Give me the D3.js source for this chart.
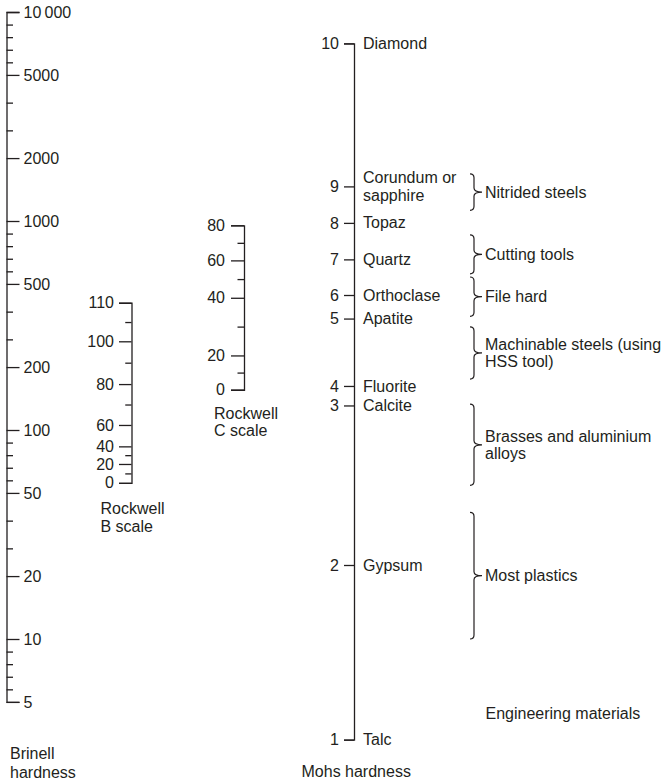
<!DOCTYPE html>
<html>
<head>
<meta charset="utf-8">
<script src="https://cdn.jsdelivr.net/npm/d3@7"></script>
<style>
  body { margin: 0; background: #fff; }
  text { font-family: 'Liberation Sans', Arial, Helvetica, sans-serif; fill: #231f20; }
</style>
</head>
<body>
<div id="hardness_chart"></div>
<script>
// Brinell hardness ticks
const brinellMajor = [5, 10, 20, 50, 100, 200, 500, 1000, 2000, 5000, 10000]
const brinellLabels = ['5', '10', '20', '50', '100', '200', '500', '1000', '2000', '5000', '10\u2009000']
const brinellMinor = [6, 7, 8, 9, 30, 40, 60, 70, 80, 90, 300, 400, 600, 700, 800, 900, 3000, 4000, 6000, 7000, 8000, 9000]

// Rockwell B scale and the Brinell value at each tick
const rockwellB = [0, 20, 40, 60, 80, 100, 110]
const rockwellBHB = [58, 73, 87, 108, 173, 293, 432]
const rockwellBMinor = [10, 30, 70, 90, 105]

// Rockwell C scale and the Brinell value at each tick
const rockwellC = [0, 20, 40, 60, 80]
const rockwellCHB = [164, 242, 450, 687, 966]
const rockwellCMinor = [10, 30, 50, 70]

// Mohs scale, minerals and Brinell equivalents
const mohs = [1, 2, 3, 4, 5, 6, 7, 8, 9, 10]
const mohsHB = [2, 24, 139, 170, 375, 460, 695, 985, 1550, 7500]
const minerals = ['Talc', 'Gypsum', 'Calcite', 'Fluorite', 'Apatite', 'Orthoclase', 'Quartz', 'Topaz', 'Corundum or|sapphire', 'Diamond']

// Engineering materials, Brinell range (high, low)
const materials = ['Nitrided steels', 'Cutting tools', 'File hard', 'Machinable steels (using|HSS tool)', 'Brasses and aluminium|alloys', 'Most plastics']
const materialHigh = [1750, 890, 555, 345, 141, 43]
const materialLow = [1170, 580, 383, 181, 56, 10]

const width = 666
const height = 781
const ink = '#231f20'
const fontSize = 16

const svg = d3
  .select('#hardness_chart')
  .append('svg')
  .attr('width', width)
  .attr('height', height)

// log scale for Brinell, linear in between the labelled ticks
const logY = d3.scaleLog().domain([10, 10000]).range([639, 12])
const hbY = d3.scaleLinear().domain(brinellMajor).range(brinellMajor.map(logY))

const rbY = d3.scaleLinear().domain(rockwellB).range(rockwellBHB.map(hbY))
const rcY = d3.scaleLinear().domain(rockwellC).range(rockwellCHB.map(hbY))
const mohsY = d3.scaleLinear().domain(mohs).range(mohsHB.map(hbY))

const drawAxis = (x, scale, major, minor, side, size, pad, fmt) => {
  const make = side === 'right' ? d3.axisRight : d3.axisLeft
  const g = svg.append('g').attr('transform', `translate(${x},0)`)

  const minorG = g
    .append('g')
    .call(make(scale).tickValues(minor).tickSize(size / 2).tickSizeOuter(0).tickFormat(''))
  minorG.select('.domain').remove()

  const majorG = g
    .append('g')
    .call(make(scale).tickValues(major).tickSize(size).tickSizeOuter(size).tickPadding(pad).tickFormat(fmt))
  majorG
    .attr('font-size', fontSize)
    .attr('font-family', "'Liberation Sans', Arial, sans-serif")

  g.selectAll('line, path').attr('stroke', ink).attr('stroke-width', 1.3)
  g.selectAll('text').attr('fill', ink)
}

drawAxis(6.5, hbY, brinellMajor, brinellMinor, 'right', 13, 4, (d, i) => brinellLabels[i])
drawAxis(131.5, rbY, rockwellB, rockwellBMinor, 'left', 12.5, 5, (d) => d)
drawAxis(244, rcY, rockwellC, rockwellCMinor, 'left', 13, 6, (d) => d)
drawAxis(354, mohsY, mohs, [], 'left', 10, 5, (d) => d)

// multi-line text centred on y
const block = (x, y, str, lineH) => {
  const lines = str.split('|')
  const t = svg.append('text').attr('x', x).attr('font-size', fontSize)
  lines.forEach((l, i) => {
    t.append('tspan')
      .attr('x', x)
      .attr('y', y + (i - (lines.length - 1) / 2) * lineH)
      .attr('dy', '0.35em')
      .text(l)
  })
}

// mineral names
minerals.forEach((m, i) => block(363, mohsY(mohs[i]), m, 18))

// braces for engineering materials
const brace = (y0, y1) => {
  const xs = 474
  const x0 = 470
  const xt = 482
  const m = (y0 + y1) / 2
  const r = 4
  return `M${x0},${y0} Q${xs},${y0} ${xs},${y0 + r} L${xs},${m - r} Q${xs},${m} ${xt},${m}` +
    ` Q${xs},${m} ${xs},${m + r} L${xs},${y1 - r} Q${xs},${y1} ${x0},${y1}`
}

svg
  .selectAll('path.brace')
  .data(materials)
  .join('path')
  .attr('class', 'brace')
  .attr('d', (d, i) => brace(hbY(materialHigh[i]), hbY(materialLow[i])))
  .attr('fill', 'none')
  .attr('stroke', ink)
  .attr('stroke-width', 1.2)

materials.forEach((m, i) => {
  block(485, (hbY(materialHigh[i]) + hbY(materialLow[i])) / 2, m, 17.7)
})

// axis titles
block(10, 763, 'Brinell|hardness', 19.7)
block(100.5, 517.5, 'Rockwell|B scale', 18.4)
block(214, 422, 'Rockwell|C scale', 17.7)
block(301.5, 771.5, 'Mohs hardness', 18)
block(485.5, 713, 'Engineering materials', 18)
</script>
</body>
</html>
